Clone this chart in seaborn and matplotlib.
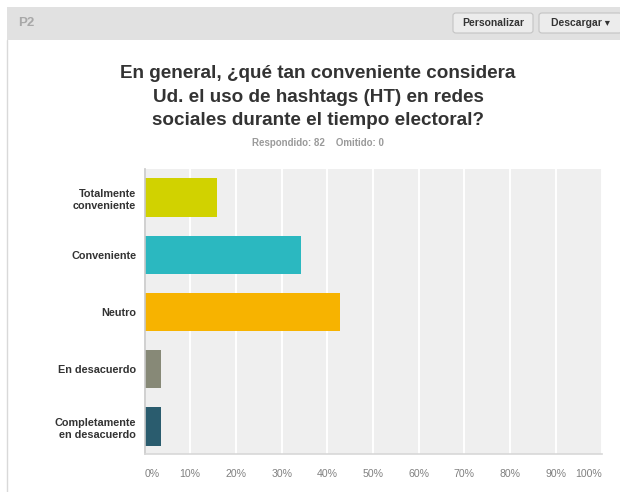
import matplotlib
matplotlib.use("Agg")
import matplotlib.pyplot as plt
from matplotlib.patches import Rectangle, FancyBboxPatch
from matplotlib.ticker import FixedLocator, FuncFormatter
import seaborn as sns
import pandas as pd

categories = ["Totalmente\nconveniente", "Conveniente", "Neutro", "En desacuerdo",
              "Completamente\nen desacuerdo"]
counts = [13, 28, 35, 3, 3]
total = 82
omitted = 0
colors = ["#d1d200", "#2bb8c0", "#f7b300", "#878977", "#2a5c6e"]
xticks = [0, 10, 20, 30, 40, 50, 60, 70, 80, 90, 100]
title = ("En general, ¿qué tan conveniente considera\n"
         "Ud. el uso de hashtags (HT) en redes\n"
         "sociales durante el tiempo electoral?")

df = pd.DataFrame({"cat": categories, "pct": [c / total * 100 for c in counts]})

sns.set_style("white")
plt.rcParams["font.family"] = ["Liberation Sans", "DejaVu Sans"]

W, H = 620, 492
fig = plt.figure(figsize=(W / 100, H / 100), dpi=100)
fig.patch.set_facecolor("white")

# header band and card border
fig.patches.append(Rectangle((7 / W, 1 - 40 / H), 1, 33 / H, transform=fig.transFigure,
                             facecolor="#e1e1e1", edgecolor="none", zorder=0))
fig.lines.append(plt.Line2D([7 / W, 7 / W], [0, 1 - 40 / H], transform=fig.transFigure,
                            color="#d9d9d9", lw=1))
fig.text(18 / W, 1 - 23 / H, "P2", fontsize=9.5, color="#a8a8a8", fontweight="bold",
         va="center", ha="left")

def button(x0, x1, label):
    fig.patches.append(FancyBboxPatch((x0 / W, 1 - 33 / H), (x1 - x0) / W, 20 / H,
                                      boxstyle="round,pad=0,rounding_size=0.005",
                                      transform=fig.transFigure, facecolor="#ececec",
                                      edgecolor="#c4c4c4", lw=0.8, zorder=1))
    fig.text((x0 + x1) / 2 / W, 1 - 23 / H, label, fontsize=7.5, color="#333333",
             fontweight="bold", ha="center", va="center", zorder=2)

button(453, 533, "Personalizar")
button(539, 622, "Descargar ▾")

fig.text(318 / W, 1 - 97 / H, title, fontsize=13.6, fontweight="bold", color="#333333",
         ha="center", va="center", linespacing=1.48)
fig.text(318 / W, 1 - 143 / H, f"Respondido: {total}    Omitido: {omitted}",
         fontsize=7, fontweight="bold", color="#9a9a9a", ha="center", va="center")

ax = fig.add_axes([144.5 / W, (H - 454) / H, 457 / W, 285 / H])
ax.set_facecolor("#efefef")
sns.barplot(data=df, y="cat", x="pct", hue="cat", palette=colors, legend=False,
            orient="h", width=0.67, ax=ax, saturation=1, edgecolor="none")
ax.set_xlim(0, 100)
ax.set_ylim(4.48, -0.5)
ax.xaxis.set_major_locator(FixedLocator(xticks))
ax.xaxis.set_major_formatter(FuncFormatter(lambda v, p: f"{int(v)}%"))
ax.grid(axis="x", color="white", lw=1.4)
ax.set_axisbelow(True)
for s in ["top", "right"]:
    ax.spines[s].set_visible(False)
ax.spines["left"].set_color("#c8c8c8")
ax.spines["bottom"].set_color("#d8d8d8")
ax.spines["left"].set_linewidth(1.2)
ax.spines["bottom"].set_linewidth(1.2)
ax.set_xlabel("")
ax.set_ylabel("")
ax.tick_params(axis="y", length=0, pad=6, labelsize=7.8, labelcolor="#333333")
ax.tick_params(axis="x", length=0, pad=11, labelsize=7.6, labelcolor="#808080")
for lbl in ax.get_yticklabels():
    lbl.set_fontweight("bold")
    lbl.set_linespacing(1.3)
xl = ax.get_xticklabels()
xl[0].set_horizontalalignment("left")
xl[-1].set_horizontalalignment("right")

fig.savefig("out.png", dpi=100)
